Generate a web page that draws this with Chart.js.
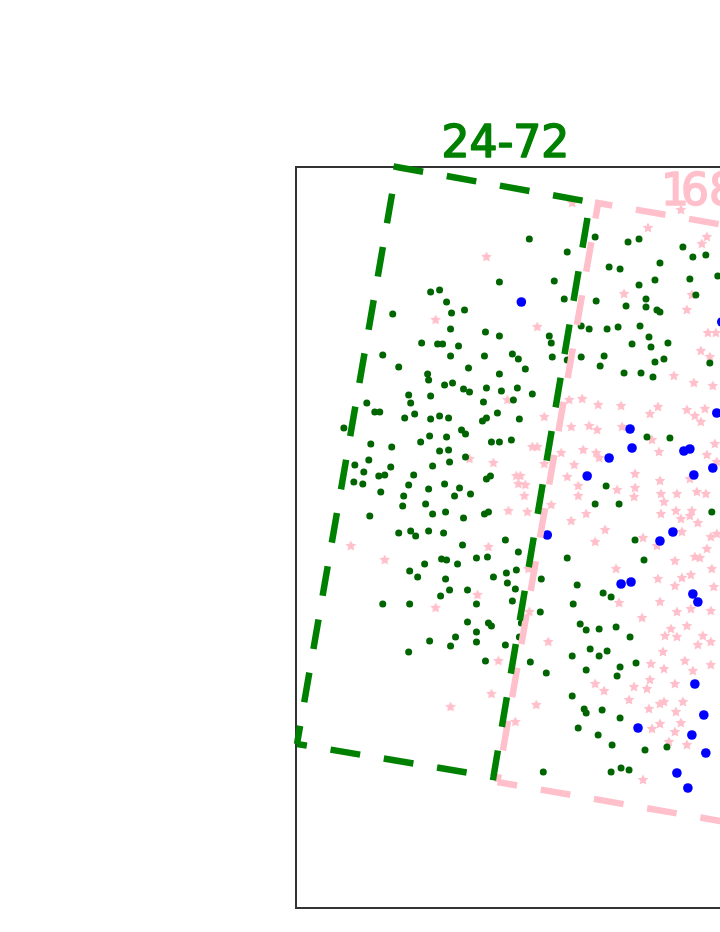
<!DOCTYPE html>
<html>
<head>
<meta charset="utf-8">
<script src="https://cdn.jsdelivr.net/npm/chart.js@4.4.1/dist/chart.umd.min.js"></script>
<style>
  html, body { margin: 0; padding: 0; background: #fff; overflow: hidden; }
  #wrap { width: 720px; height: 932px; overflow: hidden; }
</style>
</head>
<body>
<div id="wrap"><canvas id="scatter" width="1000" height="932"></canvas></div>
<script>
// window labels (the second one runs off the right edge of the picture)
const boxLabels = ['24-72', '168'];

// outlines of the two windows, corner by corner
const greenBox = [[1, 164], [198, 131], [295, 706], [101, 741], [1, 164]];
const pinkBox = [[202, 126], [527.3, 69.2], [628.3, 648.2], [303, 705], [202, 126]];

// green dots
const greenPts = [
    [135,616],[144,618],[151,606],[156,595],[169,598],[97,594],[155,579],[126,565],[142,564],[147,564],
    [163,562],[87,553],[155,552],[103,541],[173,540],[132,534],[133,528],[149,523],[157,525],[168,519],
    [174,516],[113,513],[135,512],[71,505],[115,505],[79,496],[84,496],[119,494],[109,490],[144,492],
    [153,490],[135,489],
    [234,669],[272,656],[300,671],[314,641],[204,626],[259,627],[269,609],[301,607],[190,576],[204,572],
    [254,572],[256,565],[286,582],[294,579],[312,579],[189,552],[217,554],[223,549],[257,551],[272,548],
    [286,551],[309,552],[305,542],[230,539],[204,534],[191,520],[206,517],[222,520],[237,514],[218,508],
    [188,506],[202,495],[224,489],[191,490],
    [333,666],[344,669],[388,661],[398,651],[411,653],[325,639],[365,645],[344,623],[360,628],[395,629],
    [423,632],[401,613],[351,609],[351,601],[331,602],[362,598],[365,596],[323,581],[345,582],[354,571],
    [337,564],[356,561],[373,565],[360,546],[369,549],[415,545],[329,535],[346,535],[358,531],
    [48,480],[166,478],[170,474],[134,472],[125,466],[151,471],[75,464],[96,461],[144,457],[153,458],
    [170,451],[73,448],[59,443],[154,446],[137,442],[95,441],[68,436],[83,432],[89,433],[118,433],
    [58,426],[67,424],[113,423],[149,424],[133,419],[164,420],[85,416],[159,412],[175,414],[108,412],
    [130,404],[107,402],[150,396],[137,394],[74,392],[168,390],[103,375],[115,377],[120,372],[133,377],
    [148,375],[167,363],[181,350],[146,349],[151,348],[129,344],[162,344],[114,337],[122,331],[150,329],
    [154,318],[172,318],[145,312],[87,304],[114,304],[181,304],
    [187,487],[196,466],[204,466],[216,468],[195,432],[191,429],[189,394],[193,396],[311,422],[300,404],
    [210,368],[223,356],[192,351],[272,350],[211,335],[221,338],[198,331],[212,325],[220,319],[246,329],
    [282,323],[308,315],[217,307],[278,304],[245,296],
    [352,471],[375,470],[324,404],[417,396],[340,368],[349,348],[316,311],
    [172,286],[181,276],[160,271],[134,267],[155,262],[181,266],[113,256],
    [193,285],[196,282],[285,284],[291,278],[304,279],[224,271],[226,285],[210,263],[295,259],[312,257],
    [277,252],[304,252],[190,247],[235,246],[251,235],[291,238],[277,212],[289,199],[291,195],[307,198],
    [283,180],[303,173],[248,136],
    [321,281],[335,271],[325,241],[341,245],[322,232],[325,190],[317,163],[350,158],[372,161],[316,136],
    [326,140],[334,138]
];

// pink stars
const pinkPts = [
    [140,588],[191,651],[242,581],[212,508],[287,509],[303,503],[274,508],[249,491],[353,680],[412,671],
    [407,664],[329,614],[397,613],[392,598],[413,575],[421,575],[406,557],[415,551],[379,532],[399,525],
    [418,522],[326,502],[363,501],[355,494],[392,498],[410,499],[386,698],[277,705],[174,449],[55,362],
    [89,348],[140,300],[182,313],
    [276,481],[294,482],[302,478],[237,461],[242,461],[288,458],[301,455],[304,450],[266,455],[198,445],
    [249,444],[279,443],[221,432],[225,432],[272,431],[223,424],[230,423],[283,422],[229,412],[283,412],
    [256,403],[213,397],[232,396],[291,394],[276,387],[310,378],[300,366],[193,361],[233,339],[234,296],
    [327,481],[357,468],[364,456],[420,464],[412,453],[422,446],[340,434],[365,427],[395,429],[322,418],
    [340,420],[366,414],[382,414],[402,416],[411,414],[339,411],[369,406],[366,394],[381,397],[397,397],
    [395,392],[386,389],[403,385],[348,370],[387,376],[416,371],[422,374],[362,362],[412,359],[400,351],
    [405,350],[380,347],[321,339],[417,339],[396,333],[363,329],[387,330],[380,322],[419,321],[365,306],
    [324,305],[382,296],[396,299],[416,297],[400,492],[406,486],
    [155,201],[253,266],[203,247],[196,214],[241,203],[300,224],[309,217],[220,186],
    [347,290],[376,279],[370,272],[382,271],[392,282],[408,272],[403,263],[416,266],[368,256],[390,247],
    [356,244],[369,239],[398,237],[416,243],[355,228],[339,221],[352,219],[380,224],[334,208],[365,204],
    [369,206],[388,206],[354,199],[381,196],[365,184],[386,185],[357,179],[380,176],[374,166],[392,163],
    [348,128]
];

// blue dots
const bluePts = [
    [226,606],[422,495],[292,432],[314,450],[252,373],[335,479],[337,460],[389,457],[395,459],[418,440],
    [399,433],[378,376],[365,367],[326,324],[336,326],[398,314],[403,306],[400,224],[409,193],[343,180],
    [397,173],[411,155],[382,135],[393,120],[427,586]
];

const toXY = pts => pts.map(p => ({ x: p[0], y: p[1] }));

// filled five point star used as the pink marker
function makeStar(r, color) {
    const size = Math.ceil(r * 2) + 2;
    const c = document.createElement('canvas');
    c.width = size;
    c.height = size;
    const g = c.getContext('2d');
    g.translate(size / 2, size / 2);
    g.beginPath();
    for (let i = 0; i < 10; i++) {
        const a = -Math.PI / 2 + i * Math.PI / 5;
        const rad = i % 2 ? r * 0.5 : r;
        g.lineTo(Math.cos(a) * rad, Math.sin(a) * rad);
    }
    g.closePath();
    g.fillStyle = color;
    g.fill();
    return c;
}

const frame = {
    id: 'frame',
    beforeDatasetsDraw(chart) {
        const { ctx, chartArea: a } = chart;
        ctx.save();
        ctx.strokeStyle = '#333';
        ctx.lineWidth = 2;
        ctx.strokeRect(a.left, a.top, a.right - a.left, a.bottom - a.top);
        ctx.restore();
    }
};

function boldText(ctx, text, x, y) {
    ctx.fillText(text, x, y);
    ctx.strokeText(text, x, y);
}

const labels = {
    id: 'labels',
    afterDatasetsDraw(chart) {
        const { ctx, scales: { x, y } } = chart;
        ctx.save();
        ctx.font = '44px "DejaVu Sans"';
        ctx.textBaseline = 'alphabetic';
        ctx.lineWidth = 1.6;
        ctx.lineJoin = 'round';

        ctx.fillStyle = ctx.strokeStyle = 'green';
        ctx.textAlign = 'center';
        boldText(ctx, boxLabels[0], x.getPixelForValue(210), y.getPixelForValue(751));

        // the "1" is narrow in the original, so set the rest of the label a bit closer
        ctx.fillStyle = ctx.strokeStyle = 'pink';
        ctx.textAlign = 'left';
        const px = x.getPixelForValue(366), py = y.getPixelForValue(703);
        const pink = boxLabels[1];
        boldText(ctx, pink.slice(0, 1), px, py);
        boldText(ctx, pink.slice(1), px + 20, py);
        ctx.restore();
    }
};

const boxStyle = {
    showLine: true,
    pointRadius: 0,
    borderWidth: 6.5,
    borderDash: [30, 24],
    tension: 0,
    fill: false,
    clip: false
};

new Chart(document.getElementById('scatter').getContext('2d'), {
    type: 'scatter',
    data: {
        datasets: [
            Object.assign({ label: boxLabels[0], data: toXY(greenBox), borderColor: 'green', borderDashOffset: 20 }, boxStyle),
            Object.assign({ label: boxLabels[1], data: toXY(pinkBox), borderColor: 'pink', borderDashOffset: 10 }, boxStyle),
            {
                label: 'blue',
                data: toXY(bluePts),
                pointRadius: 4.8,
                backgroundColor: 'blue',
                borderWidth: 0,
                clip: false
            },
            {
                label: 'green',
                data: toXY(greenPts),
                pointRadius: 3.5,
                backgroundColor: '#006400',
                borderWidth: 0
            },
            {
                label: 'pink',
                data: toXY(pinkPts),
                pointStyle: makeStar(5.6, 'pink'),
                pointRadius: 5
            }
        ]
    },
    options: {
        responsive: false,
        animation: false,
        events: [],
        layout: { padding: { left: 296, top: 167, right: 4, bottom: 24 } },
        scales: {
            x: { type: 'linear', min: 0, max: 700, display: false },
            y: { type: 'linear', min: 0, max: 741, display: false }
        },
        plugins: {
            legend: { display: false },
            tooltip: { enabled: false }
        }
    },
    plugins: [frame, labels]
});
</script>
</body>
</html>
